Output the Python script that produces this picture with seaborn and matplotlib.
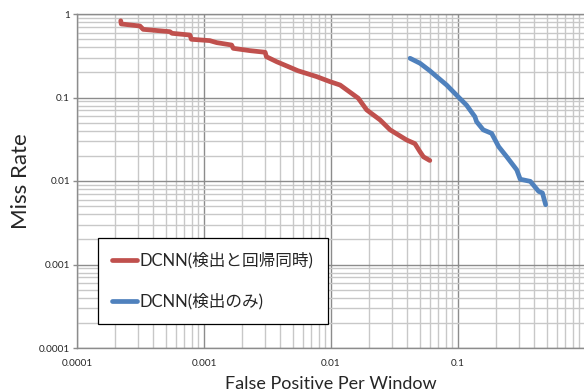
import numpy as np
import pandas as pd
import matplotlib
matplotlib.use('Agg')
import matplotlib.pyplot as plt
import seaborn as sns
from matplotlib.ticker import LogLocator, FixedLocator, NullFormatter

# curve values
red_label = 'DCNN(検出と回帰同時)'
red_fppw = [2.21e-4, 2.23e-4, 3.13e-4, 3.32e-4, 5.39e-4, 5.6e-4, 7.75e-4, 7.95e-4,
            1.11e-3, 1.26e-3, 1.65e-3, 1.7e-3, 2.3e-3, 3.03e-3, 3.1e-3, 3.74e-3,
            4.62e-3, 5.5e-3, 7.7e-3, 9.8e-3, 1.18e-2, 1.64e-2, 1.91e-2, 2.43e-2,
            2.92e-2, 3.94e-2, 4.58e-2, 5.02e-2, 5.34e-2, 6.0e-2]
red_miss = [0.83, 0.76, 0.718, 0.655, 0.614, 0.587, 0.56, 0.498,
            0.48, 0.454, 0.425, 0.388, 0.364, 0.348, 0.308, 0.268,
            0.234, 0.209, 0.178, 0.155, 0.141, 0.098, 0.071, 0.054,
            0.041, 0.031, 0.028, 0.0224, 0.0195, 0.0176]

blue_label = 'DCNN(検出のみ)'
blue_fppw = [0.0419, 0.0502, 0.060, 0.0679, 0.0814, 0.1003, 0.1167, 0.1358, 0.140,
             0.158, 0.184, 0.209, 0.242, 0.29, 0.309, 0.371, 0.432, 0.462, 0.49]
blue_miss = [0.295, 0.257, 0.209, 0.178, 0.141, 0.102, 0.081, 0.059, 0.0514,
             0.041, 0.0372, 0.0258, 0.0195, 0.0136, 0.0105, 0.0099, 0.0075, 0.0072, 0.0052]

# the "1" on the x axis falls outside the picture, so it is not labelled
x_ticks = [0.0001, 0.001, 0.01, 0.1]
x_tick_labels = ['0.0001', '0.001', '0.01', '0.1']
y_ticks = [0.0001, 0.001, 0.01, 0.1, 1]
y_tick_labels = ['0.0001', '0.001', '0.01', '0.1', '1']

df = pd.concat([
    pd.DataFrame({'fppw': red_fppw, 'miss': red_miss, 'model': red_label}),
    pd.DataFrame({'fppw': blue_fppw, 'miss': blue_miss, 'model': blue_label}),
])

sns.set_theme(style='white')
plt.rcParams['font.family'] = ['Lato', 'Noto Sans CJK JP', 'DejaVu Sans']

fig = plt.figure(figsize=(5.84, 3.92), dpi=100)
ax = fig.add_axes([77 / 584, 44 / 392, 508 / 584, 334 / 392])

sns.lineplot(data=df, x='fppw', y='miss', hue='model', sort=False, estimator=None,
             palette={red_label: '#C0504D', blue_label: '#4F81BD'},
             linewidth=3.4, solid_capstyle='round', ax=ax)

ax.set_xscale('log')
ax.set_yscale('log')
ax.set_xlim(1e-4, 1)
ax.set_ylim(1e-4, 1)

ax.xaxis.set_major_locator(FixedLocator(x_ticks))
ax.set_xticklabels(x_tick_labels)
ax.yaxis.set_major_locator(FixedLocator(y_ticks))
ax.set_yticklabels(y_tick_labels)
ax.xaxis.set_minor_locator(LogLocator(base=10, subs=np.arange(2, 10)))
ax.yaxis.set_minor_locator(LogLocator(base=10, subs=np.arange(2, 10)))
ax.xaxis.set_minor_formatter(NullFormatter())
ax.yaxis.set_minor_formatter(NullFormatter())

ax.grid(which='major', color='#8C8C8C', linewidth=1.0)
ax.grid(which='minor', color='#C8C8C8', linewidth=1.0)
ax.set_axisbelow(True)

ax.tick_params(axis='y', which='major', length=3, width=1, color='#8C8C8C',
               labelsize=7.2, pad=2, left=True)
ax.tick_params(axis='x', which='major', length=0, labelsize=7.2, pad=8)
ax.tick_params(which='minor', length=0)

for s in ['left', 'bottom', 'top']:
    ax.spines[s].set_color('#8C8C8C')
    ax.spines[s].set_linewidth(1.0)
ax.spines['right'].set_visible(False)

ax.set_xlabel('False Positive Per Window', fontsize=13, labelpad=6)
ax.set_ylabel('Miss Rate', fontsize=16, labelpad=6)

leg = ax.legend(loc='upper left', bbox_to_anchor=(98 / 584, 1 - 238 / 392),
                bbox_transform=fig.transFigure, fontsize=12, frameon=True,
                fancybox=False, framealpha=1, edgecolor='black',
                handlelength=1.5, handletextpad=0.15, labelspacing=1.45,
                borderpad=0.85, borderaxespad=0)
leg.get_frame().set_linewidth(0.9)
for line in leg.get_lines():
    line.set_linewidth(3.4)

fig.savefig('out.png', dpi=100)
